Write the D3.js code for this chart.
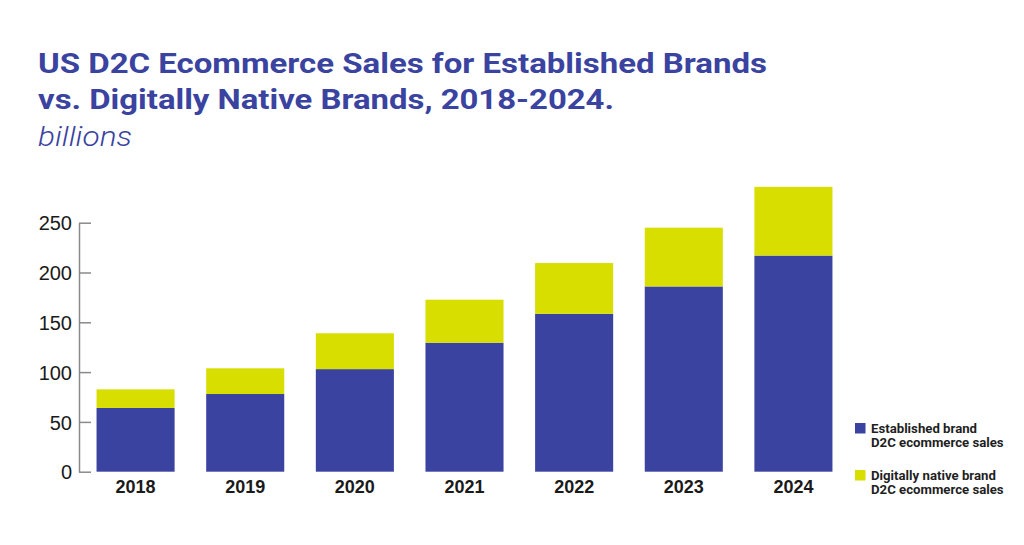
<!DOCTYPE html>
<html><head><meta charset="utf-8">
<script src="https://cdn.jsdelivr.net/npm/d3@7"></script>
<style>html,body{margin:0;padding:0;background:#fff;}svg{display:block;}</style>
</head><body>
<svg id="chart" width="1024" height="545"></svg>
<script>
const years = ["2018","2019","2020","2021","2022","2023","2024"];
const established = [64, 78, 103, 129.5, 158.5, 186, 217];
const digitallyNative = [18.7, 25.8, 36, 43.2, 51, 59, 69];
const yTicks = [0, 50, 100, 150, 200, 250];
const seriesNames = ["Established brand\nD2C ecommerce sales", "Digitally native brand\nD2C ecommerce sales"];
const seriesColors = ["#3b43a0", "#d8de00"];
const titleLines = ["US D2C Ecommerce Sales for Established Brands", "vs. Digitally Native Brands, 2018-2024."];
const subtitle = "billions";

const svg = d3.select("#chart");
const titleColor = "#3a43a0";

// Title
const tl = svg.append("g");
const titleWidths = [729, 576];
titleLines.forEach((t, i) => {
  tl.append("text").attr("x", 38).attr("y", 73 + i * 36)
    .attr("font-family", "Roboto, 'Liberation Sans', sans-serif")
    .attr("font-weight", 700).attr("font-size", 28)
    .attr("fill", titleColor)
    .attr("textLength", titleWidths[i]).attr("lengthAdjust", "spacingAndGlyphs")
    .text(t);
});
tl.append("text").attr("x", 38).attr("y", 146)
  .attr("font-family", "Roboto, 'Liberation Sans', sans-serif")
  .attr("font-weight", 300).attr("font-style", "italic").attr("font-size", 27)
  .attr("fill", titleColor)
  .attr("textLength", 94).attr("lengthAdjust", "spacingAndGlyphs")
  .text(subtitle);

// Scales
const x = d3.scaleBand().domain(years).range([79, 850]).paddingInner(0.288).paddingOuter(0.16);
const y = d3.scaleLinear().domain([0, 250]).range([471.7, 222.7]);

// Data stack
const rows = years.map((yr, i) => ({year: yr, est: established[i], dig: digitallyNative[i]}));
const stack = d3.stack().keys(["est", "dig"])(rows);

svg.append("g").selectAll("g").data(stack).join("g")
  .attr("fill", (d, i) => seriesColors[i])
  .selectAll("rect").data(d => d).join("rect")
  .attr("x", d => x(d.data.year))
  .attr("width", x.bandwidth())
  .attr("y", d => y(d[1]))
  .attr("height", d => y(d[0]) - y(d[1]));

// Y axis
const yAxis = d3.axisRight(y).tickValues(yTicks).tickSize(12).tickSizeOuter(0);
const ya = svg.append("g").attr("transform", "translate(79,0)").call(yAxis);
ya.select(".domain").attr("stroke", "#8a8a8a").attr("stroke-width", 1.5);
ya.selectAll(".tick line").attr("stroke", "#8a8a8a").attr("stroke-width", 1.5);
ya.selectAll(".tick text")
  .attr("x", -7).attr("text-anchor", "end").attr("dy", "0.36em")
  .attr("font-family", "'Liberation Sans', Arial, sans-serif")
  .attr("font-size", 20).attr("fill", "#1a1a1a");

// X axis labels
const xAxis = d3.axisBottom(x).tickSize(0).tickPadding(0);
const xa = svg.append("g").attr("transform", "translate(0,478)").call(xAxis);
xa.select(".domain").remove();
xa.selectAll(".tick text")
  .attr("dy", "0.71em").attr("y", 2)
  .attr("font-family", "'Liberation Sans', Arial, sans-serif")
  .attr("font-weight", 700).attr("font-size", 18).attr("fill", "#1a1a1a");

// Legend
const lg = svg.append("g");
seriesNames.forEach((name, i) => {
  const gy = 423 + i * 47;
  lg.append("rect").attr("x", 855).attr("y", gy).attr("width", 10.5).attr("height", 10.5).attr("fill", seriesColors[i]);
  name.split("\n").forEach((ln, j) => {
    lg.append("text").attr("x", 871).attr("y", gy + 9.5 + j * 14)
      .attr("font-family", "Roboto, 'Liberation Sans', sans-serif")
      .attr("font-weight", 700).attr("font-size", 13.2).attr("fill", "#1f1f1f")
      .text(ln);
  });
});
</script>
</body></html>
